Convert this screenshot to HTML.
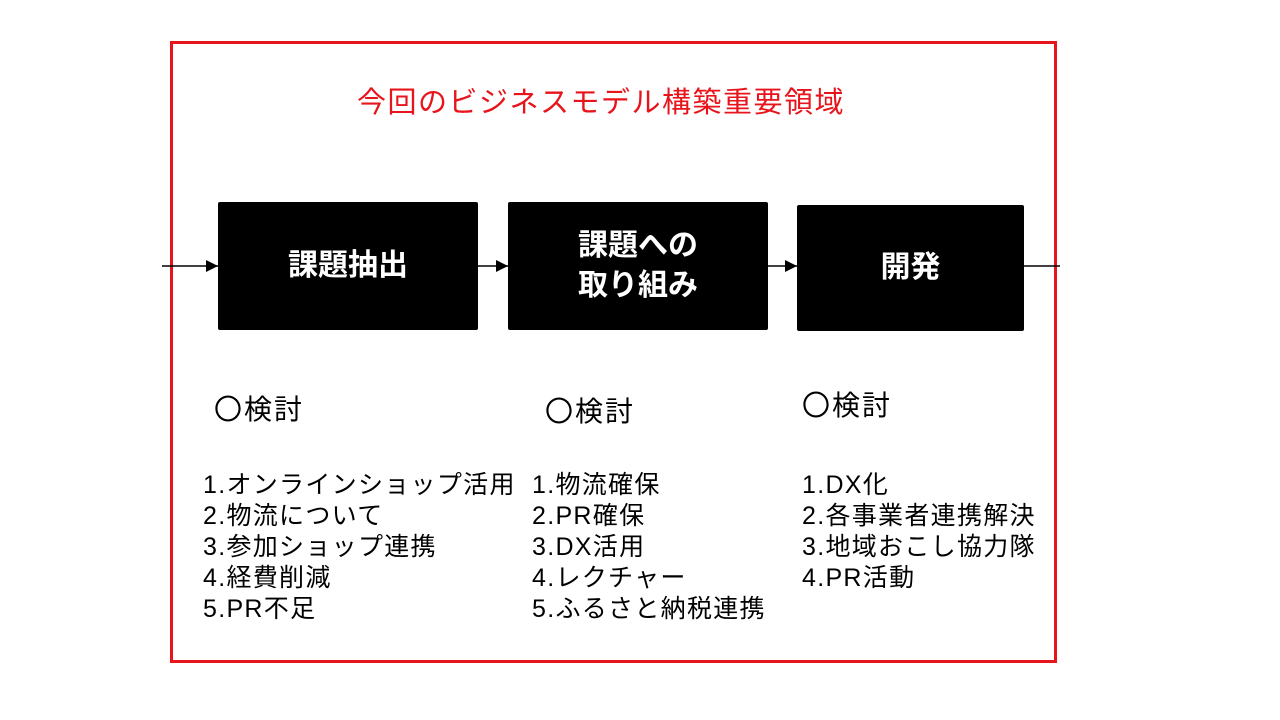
<!DOCTYPE html>
<html><head><meta charset="utf-8"><style>
body{margin:0;width:1280px;height:720px;background:#fff;position:relative;overflow:hidden;font-family:"Liberation Sans","Noto Sans CJK JP",sans-serif;}
.a{position:absolute}
.frame{left:170px;top:41px;width:881px;height:616px;border:3px solid #e8141b}
.box{background:#000;color:#fff;font-weight:bold;font-size:30px;display:flex;align-items:center;justify-content:center;text-align:center;line-height:40px;border-radius:2px}
.t{font-size:25px;color:#000;line-height:31px;white-space:nowrap;letter-spacing:1.3px}
.h{font-size:28px;white-space:nowrap;line-height:32px;letter-spacing:2px}
</style></head><body>
<div class="a frame"></div>
<div class="a" style="left:357px;top:86px;font-size:29px;letter-spacing:1.5px;line-height:34px;color:#e8141b;white-space:nowrap">今回のビジネスモデル構築重要領域</div>
<svg class="a" style="left:0;top:0" width="1280" height="720">
<line x1="162" y1="266" x2="1060" y2="266" stroke="#000" stroke-width="1.5"/>
<polygon points="218,266 206,260 206,272" fill="#000"/>
<polygon points="508,266 496,260 496,272" fill="#000"/>
<polygon points="797,266 785,260 785,272" fill="#000"/>
</svg>
<div class="a box" style="left:218px;top:202px;width:260px;height:128px">課題抽出</div>
<div class="a box" style="left:508px;top:202px;width:260px;height:128px">課題への<br>取り組み</div>
<div class="a box" style="left:797px;top:205px;width:227px;height:126px">開発</div>
<div class="a h" style="left:214px;top:394px">〇検討</div>
<div class="a h" style="left:545px;top:396px">〇検討</div>
<div class="a h" style="left:802px;top:390px">〇検討</div>
<div class="a t" style="left:203px;top:470px">1.オンラインショップ活用<br>2.物流について<br>3.参加ショップ連携<br>4.経費削減<br>5.PR不足</div>
<div class="a t" style="left:532px;top:470px">1.物流確保<br>2.PR確保<br>3.DX活用<br>4.レクチャー<br>5.ふるさと納税連携</div>
<div class="a t" style="left:802px;top:470px">1.DX化<br>2.各事業者連携解決<br>3.地域おこし協力隊<br>4.PR活動</div>
</body></html>
